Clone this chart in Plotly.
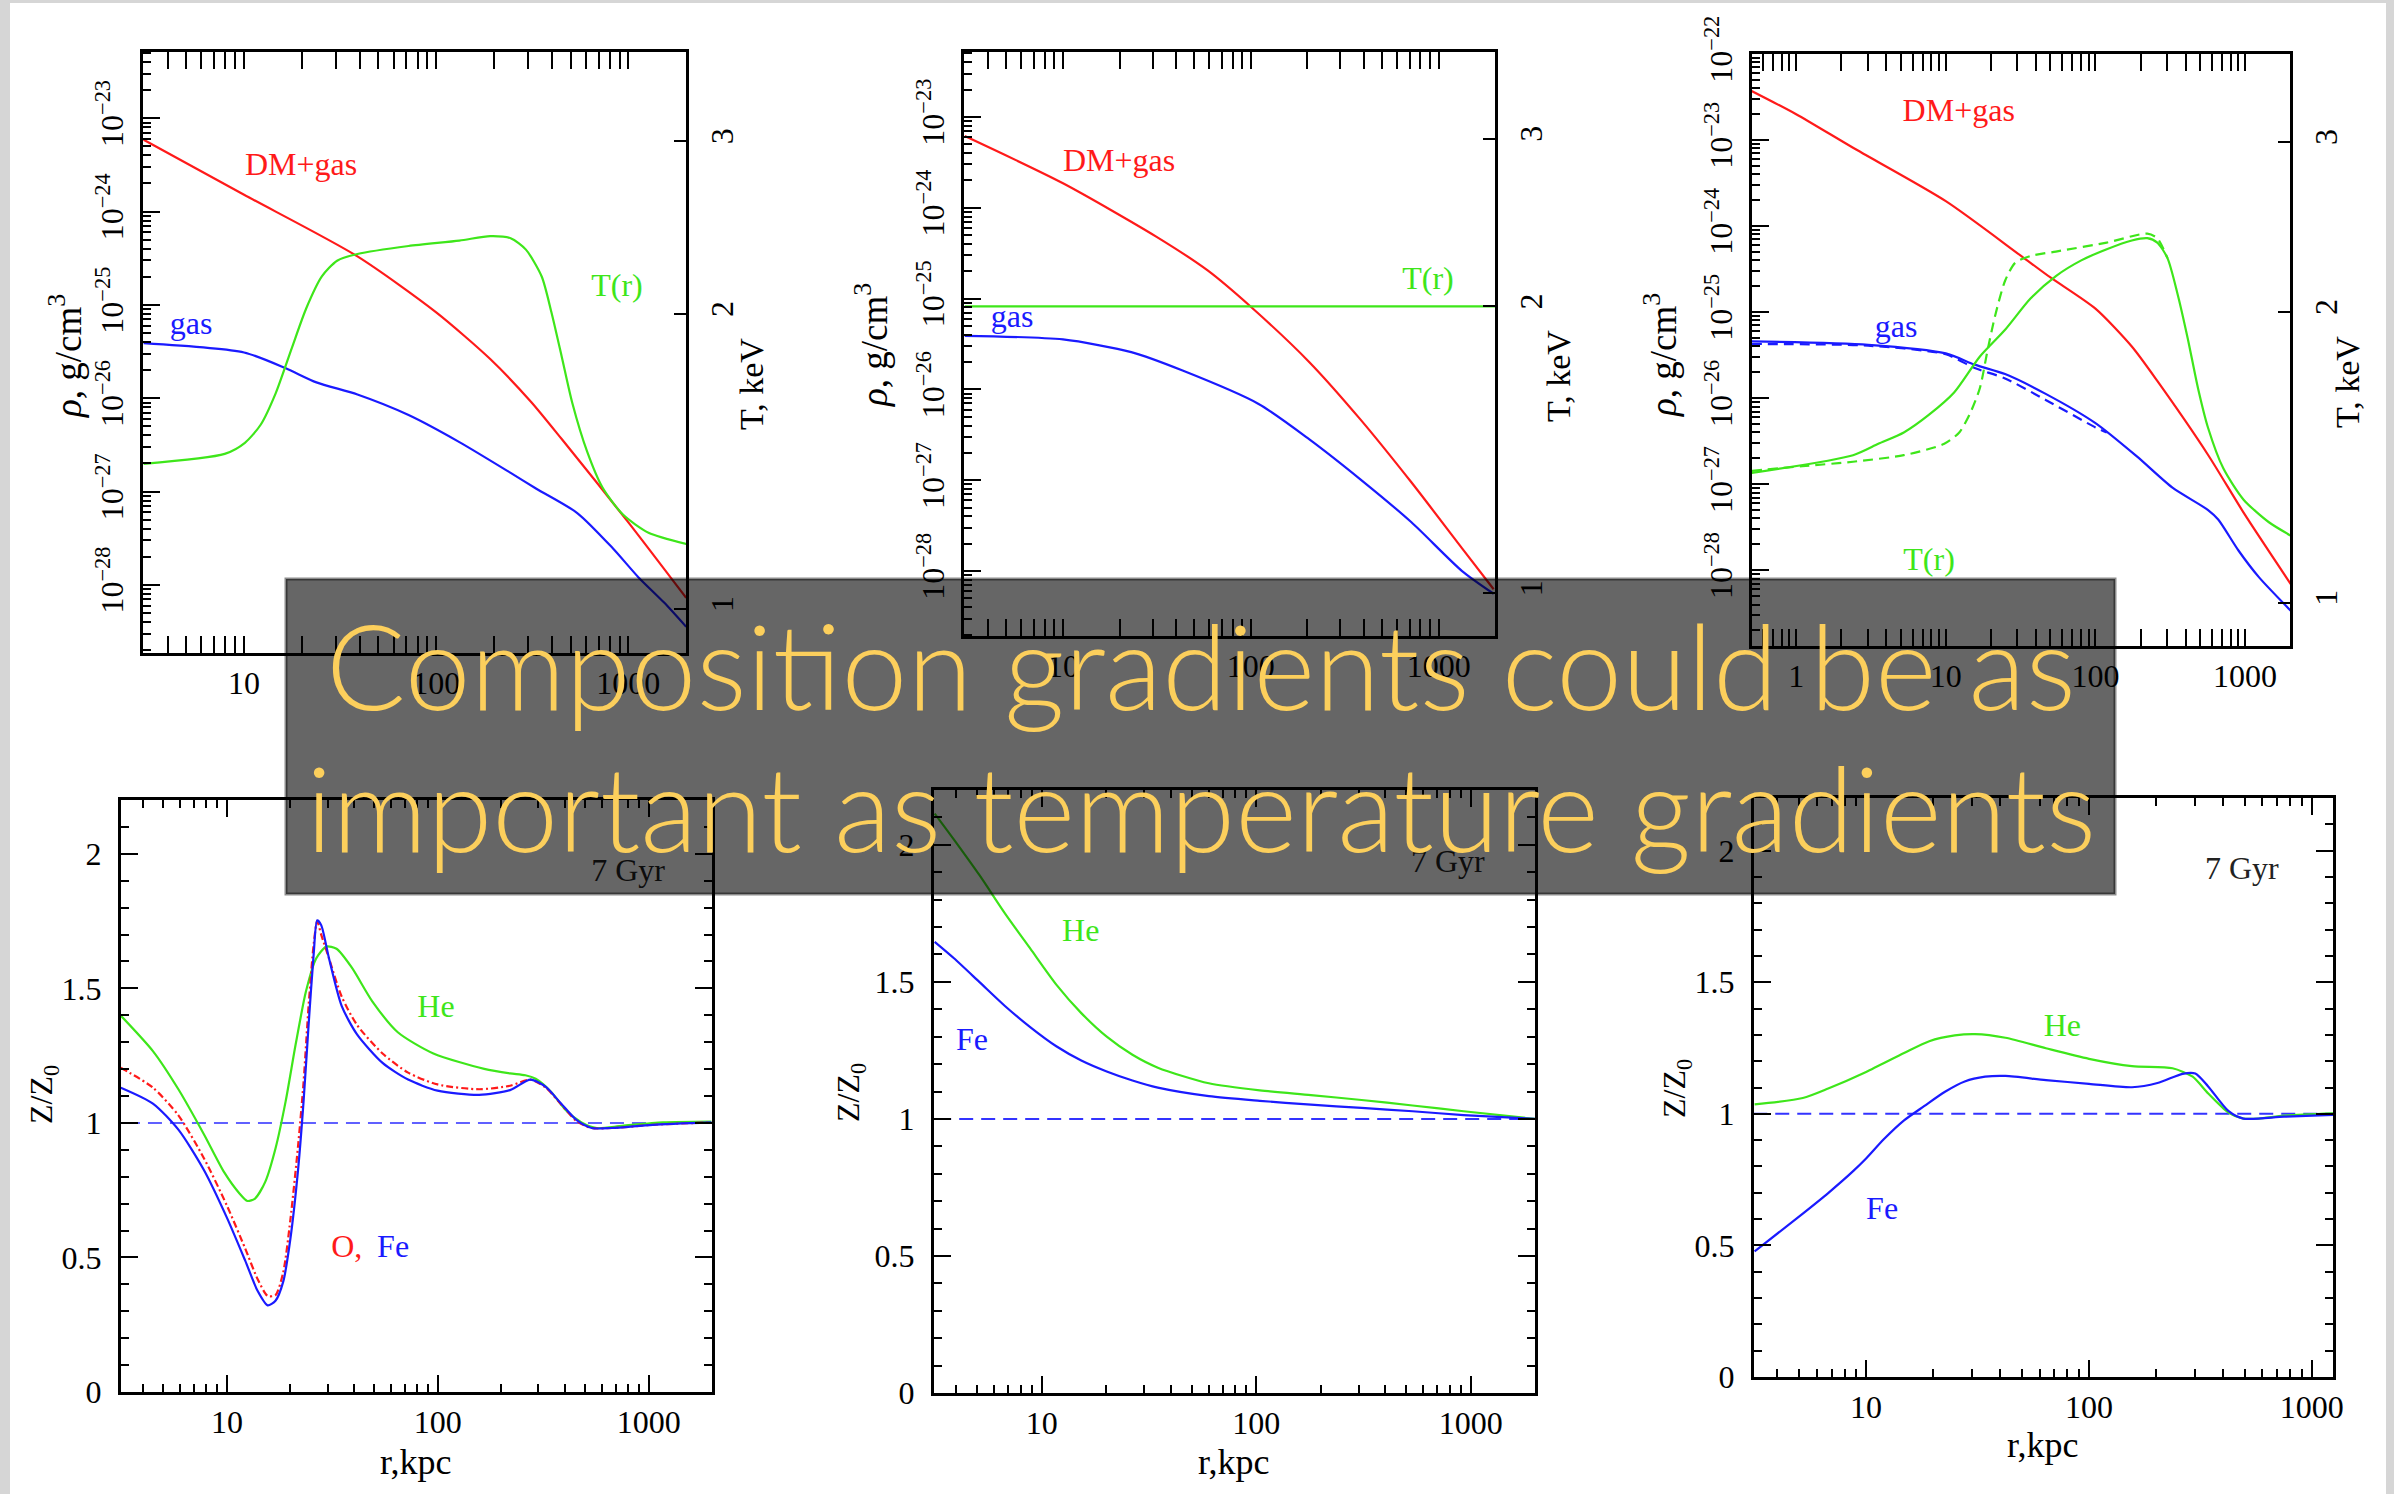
import plotly.graph_objects as go

W, H = 2394, 1494
SERIF = "Liberation Serif, Times New Roman, serif"
RED, BLUE, GREEN = "#ff1a1a", "#1a1aff", "#3ee61a"

# ---------------- top row: gas / total density (log10 g/cm^3) and T (keV) ----------------
# panel A: cluster with a temperature bump
a_dm_r = [3, 10, 38.9, 100, 191, 312, 451, 1000, 2000]
a_dm_lg = [-23.23, -23.82, -24.48, -25.08, -25.58, -26.04, -26.44, -27.33, -28.14]
a_gas_r = [3, 10, 16.5, 23.8, 38.9, 71.8, 132, 244, 332, 542, 832, 1130, 1535, 2000]
a_gas_lg = [-25.41, -25.51, -25.68, -25.83, -25.96, -26.18, -26.47, -26.80, -26.97,
            -27.23, -27.61, -27.92, -28.19, -28.45]
a_T_r = [3, 7.93, 10.1, 12.2, 14.6, 17.7, 21.1, 25.4, 30.5, 38.9, 71.8, 132, 191, 244,
         293, 354, 398, 451, 510, 611, 735, 937, 1273, 2000]
a_T = [1.406, 1.439, 1.477, 1.541, 1.659, 1.844, 2.027, 2.183, 2.265, 2.301, 2.345, 2.375,
       2.400, 2.388, 2.325, 2.183, 2.006, 1.805, 1.624, 1.446, 1.329, 1.248, 1.196, 1.165]

# panel B: isothermal cluster
b_dm_r = [3, 10, 31.5, 58.9, 100, 205, 383, 714, 1333, 1963]
b_dm_lg = [-23.21, -23.73, -24.32, -24.69, -25.09, -25.70, -26.33, -27.02, -27.75, -28.20]
b_gas_r = [3, 10, 23.1, 43, 110, 205, 383, 714, 1333, 1963]
b_gas_lg = [-25.41, -25.45, -25.59, -25.79, -26.16, -26.55, -26.99, -27.46, -28.00, -28.25]
b_T_r = [3, 2000]
b_T = [2.0, 2.0]

# panel C: temperature bump, two models (solid / dashed)
c_dm_r = [0.504, 1.0, 2.4, 10, 31.5, 50.3, 100, 175, 259, 566, 977, 2018]
c_dm_lg = [-22.43, -22.70, -23.09, -23.71, -24.34, -24.60, -24.96, -25.40, -25.80,
           -26.66, -27.33, -28.16]
c_gas_r = [0.504, 3.03, 10, 15.6, 24.9, 46.5, 100, 190, 327, 566, 661, 903, 1236, 2018]
c_gas_lg = [-25.34, -25.38, -25.48, -25.61, -25.72, -25.95, -26.29, -26.68, -27.04,
            -27.30, -27.41, -27.77, -28.08, -28.47]
c_gas2_r = [0.504, 3.03, 10, 15.6, 24.9, 46.5, 100, 119]
c_gas2_lg = [-25.37, -25.39, -25.49, -25.65, -25.77, -26.02, -26.34, -26.40]
c_T_r = [0.504, 2.4, 3.54, 5.24, 7.73, 11.4, 16.9, 24.9, 36.8, 54.4, 80.4, 119, 175, 222,
         259, 303, 354, 414, 484, 566, 715, 977, 1443, 2018]
c_T = [1.362, 1.421, 1.460, 1.500, 1.565, 1.651, 1.798, 1.916, 2.064, 2.178, 2.261, 2.322,
       2.371, 2.384, 2.359, 2.273, 2.086, 1.876, 1.668, 1.516, 1.377, 1.278, 1.211, 1.173]
c_T2_r = [0.504, 1.10, 2.4, 5.24, 9.77, 12.3, 14.4, 16.9, 18.9, 21.3, 24.9, 29.1, 36.8,
          54.4, 119, 222, 259, 303]
c_T2 = [1.369, 1.384, 1.399, 1.421, 1.460, 1.500, 1.565, 1.668, 1.816, 1.978, 2.154, 2.248,
        2.285, 2.309, 2.359, 2.410, 2.384, 2.273]

# ---------------- bottom row: abundance ratios Z/Z0 after 7 Gyr ----------------
d_he_r = [3.14, 4.46, 5.89, 7.78, 9.72, 11.5, 12.5, 13.6, 15.2, 17.0, 19.0, 21.2, 23.7, 26.5,
          29.6, 33.1, 39.2, 48.9, 64.6, 95.3, 166, 220, 260, 291, 343, 406, 480, 567, 748,
          1169, 1982]
d_he = [1.399, 1.267, 1.125, 0.958, 0.816, 0.737, 0.710, 0.719, 0.781, 0.905, 1.081, 1.293,
        1.488, 1.611, 1.655, 1.647, 1.576, 1.452, 1.337, 1.258, 1.201, 1.184, 1.177, 1.164,
        1.117, 1.046, 1.002, 0.981, 0.989, 1.002, 1.005]
d_fe_r = [3.14, 4.46, 5.89, 7.78, 10, 12.2, 14.0, 15.6, 17.0, 18.5, 20.0, 21.8, 23.1, 24.4,
          25.8, 26.8, 28.0, 30.5, 35.0, 41.4, 54.7, 72.3, 99.7, 157, 220, 275, 325, 384, 454,
          536, 670, 1045, 1982]
d_fe = [1.131, 1.072, 0.975, 0.825, 0.648, 0.489, 0.375, 0.322, 0.339, 0.410, 0.569, 0.834,
        1.081, 1.364, 1.629, 1.753, 1.735, 1.611, 1.435, 1.329, 1.223, 1.161, 1.120, 1.104,
        1.122, 1.161, 1.134, 1.072, 1.011, 0.981, 0.981, 0.993, 1.002]
d_o_r = d_fe_r
d_o = [1.205, 1.131, 1.028, 0.869, 0.693, 0.534, 0.419, 0.357, 0.360, 0.445, 0.640, 0.922,
       1.152, 1.435, 1.664, 1.749, 1.700, 1.611, 1.470, 1.364, 1.258, 1.187, 1.143, 1.125,
       1.138, 1.161, 1.131, 1.069, 1.007, 0.981, 0.981, 0.993, 1.002]

e_he_r = [3.17, 3.90, 5.13, 6.74, 8.87, 11.7, 15.3, 20.1, 26.5, 34.8, 60.2, 104, 180, 310,
          536, 927, 1991]
e_he = [2.114, 2.019, 1.889, 1.750, 1.620, 1.490, 1.386, 1.300, 1.234, 1.187, 1.130, 1.104,
        1.087, 1.069, 1.049, 1.028, 1.0]
e_fe_r = [3.17, 3.90, 5.13, 6.74, 8.87, 11.7, 15.3, 20.1, 26.5, 34.8, 60.2, 104, 180, 310,
          536, 927, 1991]
e_fe = [1.646, 1.586, 1.499, 1.412, 1.334, 1.265, 1.213, 1.173, 1.140, 1.114, 1.083, 1.066,
        1.052, 1.040, 1.028, 1.014, 1.0]

f_he_r = [3.16, 5.20, 6.76, 10, 14.8, 19.2, 25.0, 30.8, 42.2, 64.1, 100, 156, 237, 292, 342,
          422, 493, 577, 750, 1245]
f_he = [1.036, 1.060, 1.096, 1.159, 1.231, 1.276, 1.298, 1.303, 1.289, 1.249, 1.209, 1.181,
        1.173, 1.141, 1.078, 1.005, 0.982, 0.982, 0.993, 1.002]
f_fe_r = [3.16, 5.20, 6.76, 8.77, 10, 12.0, 14.8, 18.2, 22.5, 27.7, 34.2, 42.2, 64.1, 100,
          156, 203, 263, 300, 342, 422, 493, 750, 1245]
f_fe = [0.477, 0.621, 0.699, 0.783, 0.830, 0.903, 0.975, 1.029, 1.083, 1.123, 1.141, 1.144,
        1.128, 1.114, 1.101, 1.117, 1.152, 1.153, 1.105, 1.011, 0.982, 0.989, 0.996]

solar_r = [1, 3000]
solar = [1.0, 1.0]

# ---------------- layout helpers ----------------
def xdom(x0, x1):
    return [x0 / W, x1 / W]


def ydom(top, bot):
    return [1 - bot / H, 1 - top / H]


XMINOR = [k * 10.0 ** n for n in range(-1, 4) for k in range(2, 10)]
YMINOR = [k * 10.0 ** n for n in range(-30, -21) for k in range(2, 10)]
TICKFONT = dict(family=SERIF, size=32, color="black")


def x_axis(dom, rng, vals, anchor):
    return dict(type="log", domain=dom, range=rng, anchor=anchor, automargin=False,
                showline=True, linecolor="black", linewidth=3, mirror="allticks",
                ticks="inside", ticklen=17, tickwidth=2, tickcolor="black",
                tickvals=vals, ticktext=[str(v) for v in vals],
                minor=dict(tickmode="array", tickvals=XMINOR, ticks="inside",
                           ticklen=8, tickwidth=2, tickcolor="black", showgrid=False),
                showgrid=False, zeroline=False, tickfont=TICKFONT)


def rho_axis(dom, rng, exps, anchor):
    return dict(type="log", domain=dom, range=rng, anchor=anchor, automargin=False,
                showline=True, linecolor="black", linewidth=3, mirror=False,
                ticks="inside", ticklen=17, tickwidth=2, tickcolor="black",
                tickvals=[10.0 ** e for e in exps],
                ticktext=["10<sup>\u2212%d</sup>" % (-e) for e in exps],
                tickangle=-90, ticklabelstandoff=4,
                minor=dict(tickmode="array", tickvals=YMINOR, ticks="inside",
                           ticklen=8, tickwidth=2, tickcolor="black", showgrid=False),
                showgrid=False, zeroline=False, tickfont=TICKFONT)


def t_axis(over, anchor, rng):
    return dict(type="log", overlaying=over, anchor=anchor, side="right", range=rng,
                automargin=False,
                showline=True, linecolor="black", linewidth=3,
                ticks="inside", ticklen=12, tickwidth=2, tickcolor="black",
                tickvals=[1, 2, 3], ticktext=["1", "2", "3"], tickangle=-90,
                ticklabelstandoff=6,
                showgrid=False, zeroline=False, tickfont=TICKFONT)


def z_axis(dom, anchor):
    return dict(domain=dom, range=[0, 2.2], anchor=anchor, automargin=False,
                showline=True, linecolor="black", linewidth=3, mirror="allticks",
                ticks="inside", ticklen=17, tickwidth=2, tickcolor="black",
                tickvals=[0, 0.5, 1, 1.5, 2], ticktext=["0", "0.5", "1", "1.5", "2"],
                ticklabelstandoff=10,
                minor=dict(dtick=0.1, ticks="inside", ticklen=8, tickwidth=2,
                           tickcolor="black", showgrid=False),
                showgrid=False, zeroline=False, tickfont=TICKFONT)


fig = go.Figure()


def line(x, y, color, xa, ya, dash="solid", width=2.2):
    fig.add_trace(go.Scatter(x=x, y=y, mode="lines", xaxis=xa, yaxis=ya,
                             line=dict(color=color, width=width, dash=dash, shape="spline",
                                       smoothing=0.7),
                             hoverinfo="skip", showlegend=False))


def label(x, y, text, color, xa, ya, size=32):
    fig.add_trace(go.Scatter(x=[x], y=[y], mode="text", text=[text], xaxis=xa, yaxis=ya,
                             textfont=dict(family=SERIF, size=size, color=color),
                             textposition="middle center", cliponaxis=False,
                             hoverinfo="skip", showlegend=False))


def pw(vals):
    return [10.0 ** v for v in vals]


# panel A
line(a_dm_r, pw(a_dm_lg), RED, "x", "y")
line(a_gas_r, pw(a_gas_lg), BLUE, "x", "y")
line(a_T_r, a_T, GREEN, "x", "y7")
label(19.8, 10 ** -23.52, "DM+gas", RED, "x", "y")
label(5.3, 10 ** -25.23, "gas", BLUE, "x", "y")
label(873, 10 ** -24.82, "T(r)", GREEN, "x", "y")
label(76.6, 10 ** -29.47, "r, kpc", "black", "x", "y")

# panel B
line(b_dm_r, pw(b_dm_lg), RED, "x2", "y2")
line(b_gas_r, pw(b_gas_lg), BLUE, "x2", "y2")
line(b_T_r, b_T, GREEN, "x2", "y8")
label(19.9, 10 ** -23.51, "DM+gas", RED, "x2", "y2")
label(5.36, 10 ** -25.22, "gas", BLUE, "x2", "y2")
label(877, 10 ** -24.81, "T(r)", GREEN, "x2", "y2")
label(76.6, 10 ** -29.55, "r, kpc", "black", "x2", "y2")

# panel C
line(c_dm_r, pw(c_dm_lg), RED, "x3", "y3")
line(c_gas2_r, pw(c_gas2_lg), BLUE, "x3", "y3", dash="10px,6px")
line(c_gas_r, pw(c_gas_lg), BLUE, "x3", "y3")
line(c_T2_r, c_T2, GREEN, "x3", "y9", dash="10px,6px")
line(c_T_r, c_T, GREEN, "x3", "y9")
label(12.2, 10 ** -22.69, "DM+gas", RED, "x3", "y3")
label(4.65, 10 ** -25.20, "gas", BLUE, "x3", "y3")
label(7.73, 10 ** -27.90, "T(r)", GREEN, "x3", "y3")
label(31.8, 10 ** -29.72, "r, kpc", "black", "x3", "y3")

# panel D
line(solar_r, solar, "#6060ff", "x4", "y4", dash="14px,8px", width=2)
line(d_he_r, d_he, GREEN, "x4", "y4")
line(d_o_r, d_o, RED, "x4", "y4", dash="7px,3px,2px,3px")
line(d_fe_r, d_fe, BLUE, "x4", "y4")
label(98, 1.423, "He", GREEN, "x4", "y4")
label(37, 0.531, "O,", RED, "x4", "y4")
label(61.4, 0.531, "Fe", BLUE, "x4", "y4")
label(798, 1.93, "7 Gyr", "#222222", "x4", "y4")

# panel E
line(solar_r, solar, "#3333ff", "x5", "y5", dash="14px,8px", width=2)
line(e_he_r, e_he, GREEN, "x5", "y5")
line(e_fe_r, e_fe, BLUE, "x5", "y5")
label(15.2, 1.678, "He", GREEN, "x5", "y5")
label(4.73, 1.281, "Fe", BLUE, "x5", "y5")
label(783, 1.93, "7 Gyr", "#222222", "x5", "y5")

# panel F
line(solar_r, solar, "#3333ff", "x6", "y6", dash="14px,8px", width=2)
line(f_he_r, f_he, GREEN, "x6", "y6")
line(f_fe_r, f_fe, BLUE, "x6", "y6")
label(76, 1.326, "He", GREEN, "x6", "y6")
label(11.8, 0.631, "Fe", BLUE, "x6", "y6")
label(485, 1.923, "7 Gyr", "#222222", "x6", "y6")

T_RANGE = [-0.045, 0.568]
fig.update_layout(
    xaxis=x_axis(xdom(143, 686), [0.474, 3.30], [10, 100, 1000], "y"),
    yaxis=rho_axis(ydom(52, 653), [-28.73, -22.29], [-28, -27, -26, -25, -24, -23], "x"),
    yaxis7=t_axis("y", "x", T_RANGE),
    xaxis2=x_axis(xdom(964, 1495), [0.473, 3.30], [10, 100, 1000], "y2"),
    yaxis2=rho_axis(ydom(52, 636), [-28.715, -22.285], [-28, -27, -26, -25, -24, -23], "x2"),
    yaxis8=t_axis("y2", "x2", T_RANGE),
    xaxis3=x_axis(xdom(1752, 2290), [-0.295, 3.30], [1, 10, 100, 1000], "y3"),
    yaxis3=rho_axis(ydom(54, 646), [-28.88, -22.0], [-28, -27, -26, -25, -24, -23, -22], "x3"),
    yaxis9=t_axis("y3", "x3", T_RANGE),
    xaxis4=x_axis(xdom(121, 712), [0.498, 3.30], [10, 100, 1000], "y4"),
    yaxis4=z_axis(ydom(800, 1392), "x4"),
    xaxis5=x_axis(xdom(934, 1535), [0.498, 3.30], [10, 100, 1000], "y5"),
    yaxis5=z_axis(ydom(790, 1393), "x5"),
    xaxis6=x_axis(xdom(1754, 2333), [0.497, 3.095], [10, 100, 1000], "y6"),
    yaxis6=z_axis(ydom(798, 1377), "x6"),
)

# axis titles outside the overlay panel: (x px, y px, text, angle, size)
titles = [
    (66, 356, "<i>\u03c1</i>, g/cm<sup>3</sup>", -90, 37),
    (871, 345, "<i>\u03c1</i>, g/cm<sup>3</sup>", -90, 37),
    (1660, 355, "<i>\u03c1</i>, g/cm<sup>3</sup>", -90, 37),
    (752, 384, "T, keV", -90, 34),
    (1558, 376, "T, keV", -90, 34),
    (2347, 382, "T, keV", -90, 34),
    (43, 1095, "Z/Z<sub>0</sub>", -90, 32),
    (850, 1093, "Z/Z<sub>0</sub>", -90, 32),
    (1676, 1089, "Z/Z<sub>0</sub>", -90, 32),
    (416, 1462, "r,kpc", 0, 36),
    (1234, 1462, "r,kpc", 0, 36),
    (2043, 1445, "r,kpc", 0, 36),
]
ann = []
for px, py, txt, ang, sz in titles:
    ann.append(dict(x=px / W, y=1 - py / H, xref="paper", yref="paper", text=txt,
                    textangle=ang, showarrow=False, xanchor="center", yanchor="middle",
                    font=dict(family=SERIF, size=sz, color="black")))

# slide caption on the translucent banner
caption = ["Composition gradients could be as", "important as temperature gradients"]
for py, txt in zip([664, 806], caption):
    ann.append(dict(x=1201 / W, y=1 - py / H, xref="paper", yref="paper", text=txt,
                    showarrow=False, xanchor="center", yanchor="middle",
                    font=dict(family="Lato", size=118, color="#fccf5c", weight=300)))

shapes = [
    dict(type="rect", xref="paper", yref="paper", x0=10 / W, x1=2386 / W, y0=0, y1=1 - 3 / H,
         fillcolor="white", line=dict(width=0), layer="below"),
    dict(type="rect", xref="paper", yref="paper", x0=286 / W, x1=2115 / W,
         y0=1 - 894 / H, y1=1 - 579 / H, fillcolor="rgba(0,0,0,0.6)",
         line=dict(color="rgba(0,0,0,0.45)", width=3), layer="above"),
]

fig.update_layout(width=W, height=H,
                  margin=dict(l=0, r=0, t=0, b=0, pad=0, autoexpand=False),
                  paper_bgcolor="#d6d6d6", plot_bgcolor="white", showlegend=False,
                  annotations=ann, shapes=shapes)

fig.write_html("out.html")
